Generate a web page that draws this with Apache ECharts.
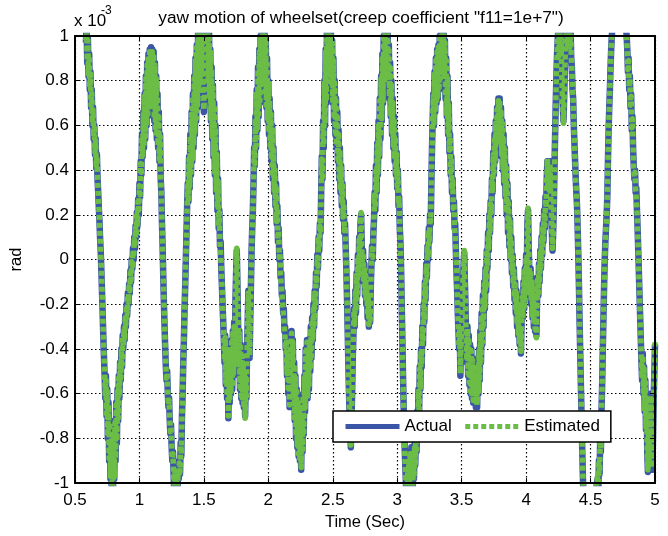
<!DOCTYPE html>
<html><head><meta charset="utf-8">
<script src="https://cdn.jsdelivr.net/npm/echarts/dist/echarts.min.js"></script>
<style>html,body{margin:0;padding:0;background:#fff}#c{width:668px;height:536px}</style>
</head><body><div id="c"></div>
<script>
const chartTitle = 'yaw motion of wheelset(creep coefficient "f11=1e+7")';
const xAxisName = 'Time (Sec)';
const yAxisName = 'rad';
const scaleBase = 'x 10';
const scaleExp = '-3';
const seriesNames = ['Actual', 'Estimated'];
const xMin = 0.5, xMax = 5, xStep = 0.5;
const yMin = -1, yMax = 1, yStep = 0.2;

const actual = [
[0.585,0.97],[0.59,1.05],[0.595,0.88],[0.6,0.99],[0.605,0.82],[0.61,0.92],[0.615,0.76],[0.62,0.84],[0.625,0.68],[0.63,0.76],[0.635,0.6],[0.64,0.68],[0.645,0.54],[0.65,0.6],[0.655,0.47],[0.66,0.54],[0.665,0.41],[0.67,0.47],[0.675,0.36],[0.68,0.3],[0.685,0.23],[0.69,0.17],[0.695,0.09],[0.7,0.03],[0.705,-0.06],[0.71,-0.15],[0.715,-0.25],[0.72,-0.35],[0.725,-0.44],[0.73,-0.52],
[0.735,-0.62],[0.74,-0.52],[0.745,-0.7],[0.75,-0.58],[0.755,-0.8],[0.76,-0.64],[0.765,-0.9],[0.77,-0.72],[0.775,-0.98],[0.78,-0.8],[0.785,-1.05],[0.79,-0.84],[0.795,-1.04],[0.8,-0.78],[0.805,-0.98],[0.81,-0.72],[0.815,-0.9],[0.82,-0.64],[0.825,-0.82],[0.83,-0.58],[0.835,-0.72],[0.84,-0.52],[0.845,-0.62],[0.85,-0.46],[0.855,-0.54],[0.86,-0.4],[0.865,-0.48],[0.87,-0.34],[0.875,-0.4],[0.88,-0.3],[0.885,-0.36],[0.89,-0.25],[0.895,-0.3],[0.9,-0.2],[0.905,-0.25],[0.91,-0.15],[0.915,-0.2],[0.92,-0.11],[0.925,-0.15],[0.93,-0.05],[0.935,-0.1],[0.94,0.0],[0.945,-0.04],[0.95,0.05],[0.955,0.0],[0.96,0.1],[0.965,0.05],[0.97,0.15],[0.975,0.1],[0.98,0.21],[0.985,0.15],[0.99,0.27],[0.995,0.2],[1.0,0.34],[1.005,0.28],[1.01,0.44],
[1.015,0.38],[1.02,0.56],[1.025,0.46],[1.03,0.66],[1.035,0.5],[1.04,0.74],[1.045,0.54],[1.05,0.82],[1.055,0.6],[1.06,0.88],[1.065,0.64],[1.07,0.92],[1.075,0.7],[1.08,0.94],[1.085,0.72],[1.09,0.95],[1.095,0.7],[1.1,0.94],[1.105,0.66],[1.11,0.93],[1.115,0.62],[1.12,0.88],[1.125,0.58],[1.13,0.82],[1.135,0.54],[1.14,0.74],[1.145,0.5],[1.15,0.66],[1.155,0.44],[1.16,0.56],[1.165,0.36],[1.17,0.3],[1.175,0.16],[1.18,0.05],
[1.185,-0.08],[1.19,-0.2],[1.195,-0.3],[1.2,-0.4],[1.205,-0.48],[1.21,-0.54],[1.215,-0.5],[1.22,-0.6],[1.225,-0.66],[1.23,-0.62],[1.235,-0.72],[1.24,-0.78],[1.245,-0.74],[1.25,-0.84],[1.255,-0.9],[1.26,-0.86],[1.265,-0.96],[1.27,-1.04],[1.275,-0.94],[1.28,-1.02],[1.285,-1.06],[1.29,-0.96],[1.295,-1.04],[1.3,-0.94],[1.305,-0.98],[1.31,-0.9],
[1.315,-0.96],[1.32,-0.82],[1.325,-0.88],[1.33,-0.7],[1.335,-0.6],[1.34,-0.46],[1.345,-0.36],[1.35,-0.22],[1.355,-0.12],
[1.36,0.0],[1.365,0.12],[1.37,0.24],[1.375,0.34],[1.38,0.26],[1.385,0.46],[1.39,0.32],[1.395,0.56],[1.4,0.38],[1.405,0.66],[1.41,0.44],[1.415,0.74],[1.42,0.5],[1.425,0.82],[1.43,0.56],[1.435,0.9],[1.44,0.62],[1.445,0.96],[1.45,0.68],[1.455,1.02],[1.46,0.74],[1.465,1.05],[1.47,0.8],[1.475,1.06],[1.48,0.84],[1.485,1.06],[1.49,0.8],[1.495,0.72],[1.5,0.66],[1.505,0.74],[1.51,0.86],[1.515,0.96],[1.52,1.04],[1.525,0.84],[1.53,1.06],[1.535,0.8],[1.54,1.02],[1.545,0.72],[1.55,0.94],[1.555,0.62],[1.56,0.86],[1.565,0.54],[1.57,0.78],[1.575,0.46],[1.58,0.7],[1.585,0.38],[1.59,0.6],[1.595,0.3],[1.6,0.48],[1.605,0.22],[1.61,0.36],[1.615,0.14],[1.62,0.22],[1.625,0.06],[1.63,0.08],[1.635,-0.04],[1.64,-0.12],[1.645,-0.2],[1.65,-0.28],[1.655,-0.36],
[1.66,-0.46],[1.665,-0.34],[1.67,-0.56],[1.675,-0.38],[1.68,-0.62],[1.685,-0.44],[1.69,-0.71],[1.695,-0.5],[1.7,-0.64],[1.705,-0.4],[1.71,-0.6],[1.715,-0.36],[1.72,-0.58],[1.725,-0.32],[1.73,-0.52],[1.735,-0.28],[1.74,-0.44],[1.745,-0.18],[1.75,-0.06],[1.755,0.04],[1.76,-0.1],[1.765,-0.28],[1.77,-0.48],[1.775,-0.32],[1.78,-0.58],[1.785,-0.38],[1.79,-0.62],[1.795,-0.42],[1.8,-0.64],[1.805,-0.46],[1.81,-0.66],[1.815,-0.5],[1.82,-0.7],[1.825,-0.52],[1.83,-0.62],[1.835,-0.4],[1.84,-0.28],[1.845,-0.14],[1.85,-0.3],[1.855,-0.44],[1.86,-0.26],[1.865,-0.12],[1.87,0.04],[1.875,0.14],[1.88,0.22],
[1.885,0.34],[1.89,0.5],[1.895,0.42],[1.9,0.64],[1.905,0.5],[1.91,0.76],[1.915,0.58],[1.92,0.86],[1.925,0.64],[1.93,0.94],[1.935,0.7],[1.94,1.0],[1.945,0.78],[1.95,1.05],[1.955,0.84],[1.96,1.06],[1.965,0.8],[1.97,1.04],[1.975,0.74],[1.98,0.98],[1.985,0.68],[1.99,0.9],[1.995,0.62],[2.0,0.8],[2.005,0.56],[2.01,0.72],[2.015,0.5],[2.02,0.66],[2.025,0.44],[2.03,0.6],[2.035,0.36],[2.04,0.5],[2.045,0.3],[2.05,0.42],[2.055,0.24],[2.06,0.34],[2.065,0.16],[2.07,0.24],[2.075,0.08],[2.08,0.14],[2.085,0.0],[2.09,0.04],[2.095,-0.08],[2.1,-0.06],[2.105,-0.16],[2.11,-0.14],[2.115,-0.24],[2.12,-0.22],[2.125,-0.32],[2.13,-0.3],[2.135,-0.4],[2.14,-0.36],
[2.145,-0.52],[2.15,-0.4],[2.155,-0.6],[2.16,-0.44],[2.165,-0.66],[2.17,-0.48],[2.175,-0.38],[2.18,-0.32],[2.185,-0.5],[2.19,-0.36],[2.195,-0.62],[2.2,-0.46],[2.205,-0.72],[2.21,-0.52],[2.215,-0.8],[2.22,-0.58],[2.225,-0.84],[2.23,-0.62],[2.235,-0.88],[2.24,-0.66],[2.245,-0.9],[2.25,-0.72],[2.255,-0.94],[2.26,-0.7],[2.265,-0.86],[2.27,-0.6],[2.275,-0.78],[2.28,-0.52],[2.285,-0.68],[2.29,-0.4],[2.295,-0.58],[2.3,-0.36],[2.305,-0.62],[2.31,-0.42],[2.315,-0.58],[2.32,-0.36],[2.325,-0.5],[2.33,-0.3],[2.335,-0.44],[2.34,-0.26],[2.345,-0.36],[2.35,-0.2],[2.355,-0.3],[2.36,-0.14],[2.365,-0.22],[2.37,-0.06],[2.375,-0.12],[2.38,0.02],[2.385,-0.04],[2.39,0.1],[2.395,0.04],[2.4,0.16],[2.405,0.12],
[2.41,0.3],[2.415,0.46],[2.42,0.36],[2.425,0.62],[2.43,0.5],[2.435,0.8],[2.44,0.6],[2.445,0.94],[2.45,0.7],[2.455,1.04],[2.46,0.8],[2.465,1.08],[2.47,0.86],[2.475,1.08],[2.48,0.84],[2.485,1.04],[2.49,0.78],[2.495,0.98],[2.5,0.7],[2.505,0.9],[2.51,0.62],[2.515,0.8],[2.52,0.56],[2.525,0.72],[2.53,0.5],[2.535,0.66],[2.54,0.44],[2.545,0.58],[2.55,0.36],[2.555,0.5],[2.56,0.3],[2.565,0.42],[2.57,0.24],[2.575,0.34],[2.58,0.18],[2.585,0.26],[2.59,0.12],[2.595,0.16],[2.6,0.06],
[2.605,-0.04],[2.61,-0.16],[2.615,-0.3],[2.62,-0.44],[2.625,-0.58],[2.63,-0.68],[2.635,-0.76],[2.64,-0.84],[2.645,-0.72],[2.65,-0.6],[2.655,-0.44],[2.66,-0.34],[2.665,-0.22],[2.67,-0.3],[2.675,-0.14],[2.68,-0.24],[2.685,-0.06],[2.69,-0.16],[2.695,0.02],[2.7,-0.08],[2.705,0.1],[2.71,0.0],[2.715,0.16],[2.72,0.2],[2.725,0.06],[2.73,-0.04],[2.735,0.04],[2.74,-0.1],[2.745,-0.02],[2.75,-0.16],[2.755,-0.06],[2.76,-0.2],[2.765,-0.12],[2.77,-0.26],[2.775,-0.16],[2.78,-0.3],[2.785,-0.22],[2.79,-0.28],[2.795,-0.12],[2.8,-0.02],[2.805,0.06],[2.81,0.0],[2.815,0.12],[2.82,0.18],
[2.825,0.3],[2.83,0.22],[2.835,0.42],[2.84,0.3],[2.845,0.52],[2.85,0.38],[2.855,0.62],[2.86,0.46],[2.865,0.72],[2.87,0.54],[2.875,0.82],[2.88,0.62],[2.885,0.92],[2.89,0.7],[2.895,1.0],[2.9,0.78],[2.905,1.04],[2.91,0.84],[2.915,1.06],[2.92,0.86],[2.925,1.04],[2.93,0.8],[2.935,0.96],[2.94,0.72],[2.945,0.88],[2.95,0.64],[2.955,0.8],[2.96,0.56],[2.965,0.72],[2.97,0.5],[2.975,0.64],[2.98,0.44],[2.985,0.56],[2.99,0.38],[2.995,0.48],[3.0,0.32],[3.005,0.4],[3.01,0.24],[3.015,0.28],[3.02,0.14],[3.025,0.08],
[3.03,-0.04],[3.035,-0.2],[3.04,-0.36],[3.045,-0.52],[3.05,-0.66],[3.055,-0.78],[3.06,-0.88],[3.065,-0.96],[3.07,-1.04],[3.08,-0.94],[3.085,-1.06],[3.09,-0.9],[3.095,-1.02],[3.1,-0.86],[3.105,-1.0],[3.11,-0.84],[3.115,-0.96],[3.12,-1.04],[3.125,-0.88],[3.13,-0.98],[3.135,-0.82],[3.14,-0.92],[3.145,-0.76],[3.15,-0.86],[3.155,-0.68],[3.16,-0.78],[3.165,-0.58],[3.17,-0.68],[3.175,-0.48],[3.18,-0.58],[3.185,-0.4],[3.19,-0.48],[3.195,-0.3],[3.2,-0.38],[3.205,-0.2],[3.21,-0.28],[3.215,-0.1],[3.22,-0.18],[3.225,-0.02],[3.23,-0.08],[3.235,0.06],[3.24,0.0],[3.245,0.14],[3.25,0.08],[3.255,0.2],[3.26,0.16],
[3.265,0.34],[3.27,0.5],[3.275,0.62],[3.28,0.74],[3.285,0.6],[3.29,0.84],[3.295,0.66],[3.3,0.9],[3.305,0.7],[3.31,0.94],[3.315,0.72],[3.32,0.96],[3.325,0.76],[3.33,1.0],[3.335,0.8],[3.34,1.02],[3.345,0.82],[3.35,1.04],[3.355,0.86],[3.36,1.04],[3.365,0.8],[3.37,0.98],[3.375,0.72],[3.38,0.9],[3.385,0.64],[3.39,0.82],[3.395,0.56],[3.4,0.7],[3.405,0.48],[3.41,0.56],[3.415,0.38],[3.42,0.46],[3.425,0.3],[3.43,0.36],[3.435,0.22],[3.44,0.26],[3.445,0.14],[3.45,0.16],
[3.455,0.04],[3.46,-0.06],[3.465,-0.14],[3.47,-0.24],[3.475,-0.32],[3.48,-0.4],[3.485,-0.3],[3.49,-0.52],[3.495,-0.36],[3.5,-0.3],[3.505,-0.2],[3.51,-0.1],[3.515,-0.02],[3.52,0.03],[3.525,-0.1],[3.53,-0.22],[3.535,-0.34],[3.54,-0.46],[3.545,-0.3],[3.55,-0.52],[3.555,-0.34],[3.56,-0.56],[3.565,-0.38],[3.57,-0.6],[3.575,-0.4],[3.58,-0.62],[3.585,-0.44],[3.59,-0.64],[3.595,-0.46],[3.6,-0.64],[3.605,-0.48],[3.61,-0.66],[3.615,-0.5],[3.62,-0.66],[3.625,-0.46],[3.63,-0.6],[3.635,-0.4],[3.64,-0.54],[3.645,-0.32],[3.65,-0.46],[3.655,-0.24],[3.66,-0.38],[3.665,-0.16],[3.67,-0.3],[3.675,-0.1],[3.68,-0.22],[3.685,-0.04],[3.69,-0.14],[3.695,0.04],[3.7,-0.04],[3.705,0.12],[3.71,0.04],[3.715,0.2],[3.72,0.12],[3.725,0.26],[3.73,0.2],
[3.735,0.36],[3.74,0.3],[3.745,0.48],[3.75,0.38],[3.755,0.56],[3.76,0.44],[3.765,0.62],[3.77,0.5],[3.775,0.68],[3.78,0.54],[3.785,0.72],[3.79,0.56],[3.795,0.72],[3.8,0.52],[3.805,0.68],[3.81,0.46],[3.815,0.62],[3.82,0.4],[3.825,0.56],[3.83,0.34],[3.835,0.5],[3.84,0.28],[3.845,0.42],[3.85,0.2],[3.855,0.34],[3.86,0.12],[3.865,0.26],[3.87,0.06],[3.875,0.18],[3.88,0.0],[3.885,0.1],[3.89,-0.06],[3.895,0.02],[3.9,-0.12],[3.905,-0.04],[3.91,-0.18],[3.915,-0.1],[3.92,-0.24],[3.925,-0.14],[3.93,-0.3],[3.935,-0.2],[3.94,-0.34],[3.945,-0.26],[3.95,-0.38],[3.955,-0.3],[3.96,-0.42],[3.965,-0.28],[3.97,-0.16],[3.975,-0.26],[3.98,-0.1],[3.985,-0.22],[3.99,-0.04],[3.995,-0.16],[4.0,0.02],[4.005,-0.08],[4.01,0.16],[4.015,0.22],[4.02,0.06],[4.025,-0.06],[4.03,-0.16],[4.035,-0.04],[4.04,-0.2],[4.045,-0.08],[4.05,-0.26],[4.055,-0.12],[4.06,-0.3],[4.065,-0.14],[4.07,-0.32],[4.075,-0.16],[4.08,-0.34],[4.085,-0.18],[4.09,-0.08],[4.095,-0.16],[4.1,-0.02],[4.105,-0.1],[4.11,0.04],[4.115,-0.04],[4.12,0.1],[4.125,0.02],[4.13,0.16],[4.135,0.08],[4.14,0.22],[4.145,0.14],[4.15,0.28],
[4.155,0.22],[4.16,0.36],[4.165,0.44],[4.17,0.3],[4.175,0.42],[4.18,0.3],[4.185,0.44],[4.19,0.28],[4.195,0.22],[4.2,0.12],[4.205,0.04],[4.21,0.12],[4.215,0.24],[4.22,0.4],[4.225,0.56],[4.23,0.7],[4.235,0.82],[4.24,0.92],[4.245,0.98],[4.25,1.04],[4.255,0.9],[4.26,1.06],[4.265,0.92],[4.27,1.04],[4.275,0.86],[4.28,0.76],[4.285,0.68],[4.29,0.62],[4.295,0.72],[4.3,0.84],[4.305,0.94],[4.31,1.02],[4.315,1.06],[4.32,0.94],[4.325,1.06],[4.33,0.94],[4.335,1.04],
[4.34,0.94],[4.345,1.04],[4.35,0.9],[4.355,0.86],[4.36,0.76],[4.365,0.72],[4.37,0.6],[4.375,0.52],[4.38,0.44],[4.385,0.36],[4.39,0.3],[4.395,0.24],[4.4,0.14],[4.405,0.02],[4.41,-0.12],[4.415,-0.28],[4.42,-0.42],[4.425,-0.56],[4.43,-0.7],[4.435,-0.84],[4.44,-0.96],[4.445,-1.06],[4.455,-1.1],
[4.47,-1.12],[4.49,-1.1],[4.51,-1.12],[4.53,-1.06],[4.545,-1.02],[4.555,-0.98],[4.56,-1.04],[4.565,-0.9],[4.57,-0.96],[4.575,-0.8],[4.58,-0.86],[4.585,-0.68],[4.59,-0.56],[4.595,-0.4],[4.6,-0.26],[4.605,-0.12],[4.61,0.0],[4.615,0.08],[4.62,0.14],[4.625,0.2],[4.63,0.28],[4.635,0.44],[4.64,0.58],[4.645,0.68],[4.65,0.76],[4.655,0.86],[4.66,0.94],[4.665,1.0],[4.67,1.04],[4.68,1.1],[4.7,1.14],[4.72,1.12],[4.74,1.1],[4.76,1.08],[4.775,1.04],[4.78,1.0],[4.785,0.94],[4.79,0.84],[4.795,0.9],[4.8,0.76],[4.805,0.82],[4.81,0.68],[4.815,0.74],[4.82,0.58],[4.825,0.64],[4.83,0.5],[4.835,0.42],[4.84,0.36],[4.845,0.4],[4.85,0.3],[4.855,0.32],[4.86,0.22],[4.865,0.14],[4.87,0.04],[4.875,-0.06],[4.88,-0.16],[4.885,-0.26],[4.89,-0.36],[4.895,-0.46],[4.9,-0.54],[4.905,-0.42],[4.91,-0.6],[4.915,-0.48],[4.92,-0.68],[4.925,-0.54],[4.93,-0.76],[4.935,-0.62],[4.94,-0.86],[4.945,-0.95],[4.95,-0.76],[4.955,-0.9],[4.96,-0.68],[4.965,-0.6],[4.97,-0.78],[4.975,-0.88],[4.98,-0.94],[4.985,-0.78],[4.99,-0.62],[4.995,-0.5],[5.0,-0.38]
];

const estimated = [
[0.585,0.98],[0.59,1.04],[0.595,0.89],[0.6,0.98],[0.605,0.83],[0.61,0.91],[0.615,0.77],[0.62,0.83],[0.625,0.69],[0.63,0.75],[0.635,0.61],[0.64,0.67],[0.645,0.55],[0.65,0.59],[0.655,0.48],[0.66,0.53],[0.665,0.42],[0.67,0.46],[0.675,0.37],[0.68,0.29],[0.685,0.24],[0.69,0.16],[0.695,0.1],[0.7,0.02],[0.705,-0.05],[0.71,-0.14],[0.715,-0.24],[0.72,-0.34],[0.725,-0.43],[0.73,-0.51],
[0.735,-0.61],[0.74,-0.53],[0.745,-0.69],[0.75,-0.59],[0.755,-0.79],[0.76,-0.65],[0.765,-0.89],[0.77,-0.73],[0.775,-0.97],[0.78,-0.81],[0.785,-1.04],[0.79,-0.85],[0.795,-1.03],[0.8,-0.79],[0.805,-0.97],[0.81,-0.73],[0.815,-0.89],[0.82,-0.65],[0.825,-0.81],[0.83,-0.59],[0.835,-0.71],[0.84,-0.53],[0.845,-0.61],[0.85,-0.47],[0.855,-0.53],[0.86,-0.41],[0.865,-0.47],[0.87,-0.35],[0.875,-0.39],[0.88,-0.31],[0.885,-0.35],[0.89,-0.26],[0.895,-0.29],[0.9,-0.21],[0.905,-0.24],[0.91,-0.16],[0.915,-0.19],[0.92,-0.12],[0.925,-0.14],[0.93,-0.06],[0.935,-0.09],[0.94,-0.01],[0.945,-0.03],[0.95,0.04],[0.955,0.01],[0.96,0.09],[0.965,0.06],[0.97,0.14],[0.975,0.11],[0.98,0.2],[0.985,0.16],[0.99,0.26],[0.995,0.21],[1.0,0.33],[1.005,0.29],[1.01,0.43],
[1.015,0.39],[1.02,0.55],[1.025,0.47],[1.03,0.65],[1.035,0.51],[1.04,0.73],[1.045,0.55],[1.05,0.81],[1.055,0.61],[1.06,0.87],[1.065,0.65],[1.07,0.91],[1.075,0.71],[1.08,0.93],[1.085,0.73],[1.09,0.94],[1.095,0.71],[1.1,0.93],[1.105,0.67],[1.11,0.92],[1.115,0.63],[1.12,0.87],[1.125,0.59],[1.13,0.81],[1.135,0.55],[1.14,0.73],[1.145,0.51],[1.15,0.65],[1.155,0.45],[1.16,0.55],[1.165,0.37],[1.17,0.29],[1.175,0.17],[1.18,0.04],
[1.185,-0.07],[1.19,-0.19],[1.195,-0.29],[1.2,-0.39],[1.205,-0.47],[1.21,-0.53],[1.215,-0.51],[1.22,-0.59],[1.225,-0.65],[1.23,-0.63],[1.235,-0.71],[1.24,-0.77],[1.245,-0.75],[1.25,-0.83],[1.255,-0.89],[1.26,-0.87],[1.265,-0.95],[1.27,-1.03],[1.275,-0.95],[1.28,-1.01],[1.285,-1.05],[1.29,-0.97],[1.295,-1.03],[1.3,-0.95],[1.305,-0.97],[1.31,-0.91],
[1.315,-0.95],[1.32,-0.83],[1.325,-0.87],[1.33,-0.71],[1.335,-0.59],[1.34,-0.47],[1.345,-0.35],[1.35,-0.23],[1.355,-0.11],
[1.36,0.01],[1.365,0.11],[1.37,0.23],[1.375,0.33],[1.38,0.27],[1.385,0.45],[1.39,0.33],[1.395,0.55],[1.4,0.39],[1.405,0.65],[1.41,0.45],[1.415,0.73],[1.42,0.51],[1.425,0.81],[1.43,0.57],[1.435,0.89],[1.44,0.63],[1.445,0.95],[1.45,0.69],[1.455,1.01],[1.46,0.75],[1.465,1.04],[1.47,0.81],[1.475,1.05],[1.48,0.85],[1.485,1.05],[1.49,0.81],[1.495,0.73],[1.5,0.67],[1.505,0.75],[1.51,0.85],[1.515,0.95],[1.52,1.03],[1.525,0.85],[1.53,1.05],[1.535,0.81],[1.54,1.01],[1.545,0.73],[1.55,0.93],[1.555,0.63],[1.56,0.85],[1.565,0.55],[1.57,0.77],[1.575,0.47],[1.58,0.69],[1.585,0.39],[1.59,0.59],[1.595,0.31],[1.6,0.47],[1.605,0.23],[1.61,0.35],[1.615,0.15],[1.62,0.21],[1.625,0.07],[1.63,0.07],[1.635,-0.03],[1.64,-0.11],[1.645,-0.19],[1.65,-0.27],[1.655,-0.35],
[1.66,-0.45],[1.665,-0.35],[1.67,-0.55],[1.675,-0.39],[1.68,-0.61],[1.685,-0.45],[1.69,-0.7],[1.695,-0.51],[1.7,-0.63],[1.705,-0.41],[1.71,-0.59],[1.715,-0.37],[1.72,-0.57],[1.725,-0.33],[1.73,-0.51],[1.735,-0.29],[1.74,-0.43],[1.745,-0.19],[1.75,-0.05],[1.755,0.05],[1.76,-0.09],[1.765,-0.27],[1.77,-0.47],[1.775,-0.33],[1.78,-0.57],[1.785,-0.39],[1.79,-0.61],[1.795,-0.43],[1.8,-0.63],[1.805,-0.47],[1.81,-0.65],[1.815,-0.51],[1.82,-0.71],[1.825,-0.53],[1.83,-0.61],[1.835,-0.41],[1.84,-0.27],[1.845,-0.15],[1.85,-0.29],[1.855,-0.43],[1.86,-0.27],[1.865,-0.11],[1.87,0.03],[1.875,0.15],[1.88,0.21],
[1.885,0.33],[1.89,0.49],[1.895,0.43],[1.9,0.63],[1.905,0.51],[1.91,0.75],[1.915,0.59],[1.92,0.85],[1.925,0.65],[1.93,0.93],[1.935,0.71],[1.94,0.99],[1.945,0.79],[1.95,1.04],[1.955,0.85],[1.96,1.05],[1.965,0.81],[1.97,1.03],[1.975,0.75],[1.98,0.97],[1.985,0.69],[1.99,0.89],[1.995,0.63],[2.0,0.79],[2.005,0.57],[2.01,0.71],[2.015,0.51],[2.02,0.65],[2.025,0.45],[2.03,0.59],[2.035,0.37],[2.04,0.49],[2.045,0.31],[2.05,0.41],[2.055,0.25],[2.06,0.33],[2.065,0.17],[2.07,0.23],[2.075,0.09],[2.08,0.13],[2.085,0.01],[2.09,0.03],[2.095,-0.07],[2.1,-0.07],[2.105,-0.15],[2.11,-0.15],[2.115,-0.23],[2.12,-0.23],[2.125,-0.31],[2.13,-0.31],[2.135,-0.39],[2.14,-0.37],
[2.145,-0.51],[2.15,-0.41],[2.155,-0.59],[2.16,-0.45],[2.165,-0.65],[2.17,-0.49],[2.175,-0.39],[2.18,-0.33],[2.185,-0.49],[2.19,-0.37],[2.195,-0.61],[2.2,-0.47],[2.205,-0.71],[2.21,-0.53],[2.215,-0.79],[2.22,-0.59],[2.225,-0.83],[2.23,-0.63],[2.235,-0.87],[2.24,-0.67],[2.245,-0.89],[2.25,-0.73],[2.255,-0.93],[2.26,-0.71],[2.265,-0.85],[2.27,-0.61],[2.275,-0.77],[2.28,-0.53],[2.285,-0.67],[2.29,-0.41],[2.295,-0.57],[2.3,-0.37],[2.305,-0.61],[2.31,-0.43],[2.315,-0.57],[2.32,-0.37],[2.325,-0.49],[2.33,-0.31],[2.335,-0.43],[2.34,-0.27],[2.345,-0.35],[2.35,-0.21],[2.355,-0.29],[2.36,-0.15],[2.365,-0.21],[2.37,-0.07],[2.375,-0.11],[2.38,0.01],[2.385,-0.03],[2.39,0.09],[2.395,0.05],[2.4,0.15],[2.405,0.13],
[2.41,0.29],[2.415,0.45],[2.42,0.37],[2.425,0.61],[2.43,0.51],[2.435,0.79],[2.44,0.61],[2.445,0.93],[2.45,0.71],[2.455,1.03],[2.46,0.81],[2.465,1.07],[2.47,0.87],[2.475,1.07],[2.48,0.85],[2.485,1.03],[2.49,0.79],[2.495,0.97],[2.5,0.71],[2.505,0.89],[2.51,0.63],[2.515,0.79],[2.52,0.57],[2.525,0.71],[2.53,0.51],[2.535,0.65],[2.54,0.45],[2.545,0.57],[2.55,0.37],[2.555,0.49],[2.56,0.31],[2.565,0.41],[2.57,0.25],[2.575,0.33],[2.58,0.19],[2.585,0.25],[2.59,0.13],[2.595,0.15],[2.6,0.07],
[2.605,-0.05],[2.61,-0.15],[2.615,-0.31],[2.62,-0.43],[2.625,-0.59],[2.63,-0.67],[2.635,-0.77],[2.64,-0.83],[2.645,-0.73],[2.65,-0.59],[2.655,-0.45],[2.66,-0.33],[2.665,-0.23],[2.67,-0.29],[2.675,-0.15],[2.68,-0.23],[2.685,-0.07],[2.69,-0.15],[2.695,0.01],[2.7,-0.07],[2.705,0.09],[2.71,0.01],[2.715,0.15],[2.72,0.21],[2.725,0.05],[2.73,-0.03],[2.735,0.03],[2.74,-0.09],[2.745,-0.03],[2.75,-0.15],[2.755,-0.07],[2.76,-0.19],[2.765,-0.13],[2.77,-0.25],[2.775,-0.17],[2.78,-0.29],[2.785,-0.23],[2.79,-0.27],[2.795,-0.13],[2.8,-0.01],[2.805,0.05],[2.81,0.01],[2.815,0.11],[2.82,0.19],
[2.825,0.29],[2.83,0.23],[2.835,0.41],[2.84,0.31],[2.845,0.51],[2.85,0.39],[2.855,0.61],[2.86,0.47],[2.865,0.71],[2.87,0.55],[2.875,0.81],[2.88,0.63],[2.885,0.91],[2.89,0.71],[2.895,0.99],[2.9,0.79],[2.905,1.03],[2.91,0.85],[2.915,1.05],[2.92,0.87],[2.925,1.03],[2.93,0.81],[2.935,0.95],[2.94,0.73],[2.945,0.87],[2.95,0.65],[2.955,0.79],[2.96,0.57],[2.965,0.71],[2.97,0.51],[2.975,0.63],[2.98,0.45],[2.985,0.55],[2.99,0.39],[2.995,0.47],[3.0,0.33],[3.005,0.39],[3.01,0.25],[3.015,0.27],[3.02,0.15],[3.025,0.07],
[3.03,-0.05],[3.035,-0.19],[3.04,-0.37],[3.045,-0.51],[3.05,-0.67],[3.055,-0.77],[3.06,-0.89],[3.065,-0.95],[3.07,-1.03],[3.08,-0.95],[3.085,-1.05],[3.09,-0.91],[3.095,-1.01],[3.1,-0.87],[3.105,-0.99],[3.11,-0.85],[3.115,-0.95],[3.12,-1.03],[3.125,-0.89],[3.13,-0.97],[3.135,-0.83],[3.14,-0.91],[3.145,-0.77],[3.15,-0.85],[3.155,-0.69],[3.16,-0.77],[3.165,-0.59],[3.17,-0.67],[3.175,-0.49],[3.18,-0.57],[3.185,-0.41],[3.19,-0.47],[3.195,-0.31],[3.2,-0.37],[3.205,-0.21],[3.21,-0.27],[3.215,-0.11],[3.22,-0.17],[3.225,-0.03],[3.23,-0.07],[3.235,0.05],[3.24,0.01],[3.245,0.13],[3.25,0.09],[3.255,0.19],[3.26,0.17],
[3.265,0.33],[3.27,0.49],[3.275,0.61],[3.28,0.73],[3.285,0.61],[3.29,0.83],[3.295,0.67],[3.3,0.89],[3.305,0.71],[3.31,0.93],[3.315,0.73],[3.32,0.95],[3.325,0.77],[3.33,0.99],[3.335,0.81],[3.34,1.01],[3.345,0.83],[3.35,1.03],[3.355,0.87],[3.36,1.03],[3.365,0.81],[3.37,0.97],[3.375,0.73],[3.38,0.89],[3.385,0.65],[3.39,0.81],[3.395,0.57],[3.4,0.69],[3.405,0.49],[3.41,0.55],[3.415,0.39],[3.42,0.45],[3.425,0.31],[3.43,0.35],[3.435,0.23],[3.44,0.25],[3.445,0.15],[3.45,0.15],
[3.455,0.05],[3.46,-0.05],[3.465,-0.15],[3.47,-0.23],[3.475,-0.33],[3.48,-0.39],[3.485,-0.31],[3.49,-0.51],[3.495,-0.37],[3.5,-0.29],[3.505,-0.21],[3.51,-0.09],[3.515,-0.03],[3.52,0.04],[3.525,-0.11],[3.53,-0.21],[3.535,-0.35],[3.54,-0.45],[3.545,-0.31],[3.55,-0.51],[3.555,-0.35],[3.56,-0.55],[3.565,-0.39],[3.57,-0.59],[3.575,-0.41],[3.58,-0.61],[3.585,-0.45],[3.59,-0.63],[3.595,-0.47],[3.6,-0.63],[3.605,-0.49],[3.61,-0.65],[3.615,-0.51],[3.62,-0.65],[3.625,-0.47],[3.63,-0.59],[3.635,-0.41],[3.64,-0.53],[3.645,-0.33],[3.65,-0.45],[3.655,-0.25],[3.66,-0.37],[3.665,-0.17],[3.67,-0.29],[3.675,-0.11],[3.68,-0.21],[3.685,-0.05],[3.69,-0.13],[3.695,0.03],[3.7,-0.03],[3.705,0.11],[3.71,0.05],[3.715,0.19],[3.72,0.13],[3.725,0.25],[3.73,0.21],
[3.735,0.35],[3.74,0.31],[3.745,0.47],[3.75,0.39],[3.755,0.55],[3.76,0.45],[3.765,0.61],[3.77,0.51],[3.775,0.67],[3.78,0.55],[3.785,0.71],[3.79,0.57],[3.795,0.71],[3.8,0.53],[3.805,0.67],[3.81,0.47],[3.815,0.61],[3.82,0.41],[3.825,0.55],[3.83,0.35],[3.835,0.49],[3.84,0.29],[3.845,0.41],[3.85,0.21],[3.855,0.33],[3.86,0.13],[3.865,0.25],[3.87,0.07],[3.875,0.17],[3.88,0.01],[3.885,0.09],[3.89,-0.05],[3.895,0.01],[3.9,-0.11],[3.905,-0.05],[3.91,-0.17],[3.915,-0.11],[3.92,-0.23],[3.925,-0.15],[3.93,-0.29],[3.935,-0.21],[3.94,-0.33],[3.945,-0.27],[3.95,-0.37],[3.955,-0.31],[3.96,-0.41],[3.965,-0.29],[3.97,-0.17],[3.975,-0.25],[3.98,-0.11],[3.985,-0.21],[3.99,-0.05],[3.995,-0.15],[4.0,0.01],[4.005,-0.07],[4.01,0.15],[4.015,0.23],[4.02,0.07],[4.025,-0.05],[4.03,-0.15],[4.035,-0.05],[4.04,-0.19],[4.045,-0.09],[4.05,-0.25],[4.055,-0.13],[4.06,-0.29],[4.065,-0.15],[4.07,-0.31],[4.075,-0.17],[4.08,-0.35],[4.085,-0.19],[4.09,-0.09],[4.095,-0.15],[4.1,-0.03],[4.105,-0.09],[4.11,0.03],[4.115,-0.03],[4.12,0.09],[4.125,0.03],[4.13,0.15],[4.135,0.09],[4.14,0.21],[4.145,0.15],[4.15,0.27],
[4.155,0.23],[4.16,0.35],[4.165,0.45],[4.17,0.31],[4.175,0.41],[4.18,0.31],[4.185,0.43],[4.19,0.29],[4.195,0.21],[4.2,0.13],[4.205,0.05],[4.21,0.11],[4.215,0.25],[4.22,0.39],[4.225,0.57],[4.23,0.69],[4.235,0.83],[4.24,0.91],[4.245,0.99],[4.25,1.03],[4.255,0.91],[4.26,1.05],[4.265,0.93],[4.27,1.03],[4.275,0.87],[4.28,0.75],[4.285,0.69],[4.29,0.61],[4.295,0.73],[4.3,0.83],[4.305,0.95],[4.31,1.01],[4.315,1.05],[4.32,0.95],[4.325,1.05],[4.33,0.95],[4.335,1.03],
[4.34,0.95],[4.345,1.03],[4.35,0.91],[4.355,0.85],[4.36,0.77],[4.365,0.71],[4.37,0.61],[4.375,0.51],[4.38,0.45],[4.385,0.35],[4.39,0.31],[4.395,0.23],[4.4,0.15],[4.405,0.01],[4.41,-0.11],[4.415,-0.29],[4.42,-0.41],[4.425,-0.57],[4.43,-0.69],[4.435,-0.85],[4.44,-0.95],[4.445,-1.05],[4.455,-1.09],
[4.47,-1.11],[4.49,-1.09],[4.51,-1.11],[4.53,-1.05],[4.545,-1.01],[4.555,-0.97],[4.56,-1.03],[4.565,-0.91],[4.57,-0.95],[4.575,-0.81],[4.58,-0.85],[4.585,-0.69],[4.59,-0.55],[4.595,-0.41],[4.6,-0.25],[4.605,-0.13],[4.61,0.01],[4.615,0.07],[4.62,0.15],[4.625,0.19],[4.63,0.29],[4.635,0.43],[4.64,0.59],[4.645,0.67],[4.65,0.77],[4.655,0.85],[4.66,0.95],[4.665,0.99],[4.67,1.05],[4.68,1.09],[4.7,1.13],[4.72,1.11],[4.74,1.09],[4.76,1.07],[4.775,1.03],[4.78,1.01],[4.785,0.93],[4.79,0.85],[4.795,0.89],[4.8,0.77],[4.805,0.81],[4.81,0.69],[4.815,0.73],[4.82,0.59],[4.825,0.63],[4.83,0.51],[4.835,0.41],[4.84,0.37],[4.845,0.39],[4.85,0.31],[4.855,0.31],[4.86,0.23],[4.865,0.13],[4.87,0.05],[4.875,-0.07],[4.88,-0.15],[4.885,-0.27],[4.89,-0.35],[4.895,-0.47],[4.9,-0.53],[4.905,-0.43],[4.91,-0.59],[4.915,-0.49],[4.92,-0.67],[4.925,-0.55],[4.93,-0.75],[4.935,-0.63],[4.94,-0.85],[4.945,-0.94],[4.95,-0.77],[4.955,-0.89],[4.96,-0.69],[4.965,-0.61],[4.97,-0.77],[4.975,-0.87],[4.98,-0.93],[4.985,-0.79],[4.99,-0.61],[4.995,-0.51],[5.0,-0.37]
];

const BLUE = '#3b56a6';
const GREEN = '#6bbd45';
const FONT = '"Liberation Sans", Arial, Helvetica, sans-serif';

const chart = echarts.init(document.getElementById('c'), null, {renderer: 'canvas'});

function boxAxis(position, showLabel, extra) {
  return Object.assign({
    type: 'value', position: position, z: 5,
    axisLine: {show: true, onZero: false, lineStyle: {color: '#000', width: 2}},
    axisTick: {show: true, inside: true, length: 5, lineStyle: {color: '#000', width: 1}},
    axisLabel: {show: showLabel, color: '#000', fontSize: 17, fontFamily: FONT},
    splitLine: {show: false}
  }, extra);
}
const gridLine = {show: true, lineStyle: {color: '#000', width: 1.2, type: [1.5, 2.5]}};

const option = {
  animation: false,
  backgroundColor: '#fff',
  grid: {left: 73, right: 13, top: 36, bottom: 48, containLabel: false},
  xAxis: [
    boxAxis('bottom', true, {min: xMin, max: xMax, interval: xStep,
      axisLabel: {show: true, color: '#000', fontSize: 17, fontFamily: FONT, margin: 9},
      name: xAxisName, nameLocation: 'middle', nameGap: 27,
      nameTextStyle: {color: '#000', fontSize: 16.5, fontFamily: FONT}}),
    boxAxis('top', false, {min: xMin, max: xMax, interval: xStep}),
    {type: 'value', position: 'bottom', min: xMin, max: xMax, interval: xStep, z: 0,
      axisLine: {show: false, onZero: false}, axisTick: {show: false}, axisLabel: {show: false}, splitLine: gridLine}
  ],
  yAxis: [
    boxAxis('left', true, {min: yMin, max: yMax, interval: yStep,
      axisLabel: {show: true, color: '#000', fontSize: 17, fontFamily: FONT, margin: 6},
      name: yAxisName, nameLocation: 'middle', nameGap: 50, nameRotate: 90,
      nameTextStyle: {color: '#000', fontSize: 16.5, fontFamily: FONT}}),
    boxAxis('right', false, {min: yMin, max: yMax, interval: yStep}),
    {type: 'value', position: 'left', min: yMin, max: yMax, interval: yStep, z: 0,
      axisLine: {show: false, onZero: false}, axisTick: {show: false}, axisLabel: {show: false}, splitLine: gridLine}
  ],
  legend: {
    left: 333, top: 411, orient: 'horizontal',
    itemWidth: 54, itemHeight: 14, itemGap: 11,
    padding: [7, 11, 7, 10],
    backgroundColor: '#fff', borderColor: '#000', borderWidth: 1.5, borderRadius: 0,
    textStyle: {fontSize: 17, color: '#000', fontFamily: FONT},
    itemStyle: {opacity: 0, borderWidth: 0},
    lineStyle: {width: 5},
    data: seriesNames, z: 10
  },
  graphic: [
    {type: 'text', x: 361, y: 18, z: 10, style: {text: chartTitle, fill: '#000', font: '17.3px ' + FONT, align: 'center', verticalAlign: 'middle'}},
    {type: 'text', x: 74, y: 21, z: 10, style: {text: scaleBase, fill: '#000', font: '17px ' + FONT, align: 'left', verticalAlign: 'middle'}},
    {type: 'text', x: 101, y: 11, z: 10, style: {text: scaleExp, fill: '#000', font: '12px ' + FONT, align: 'left', verticalAlign: 'middle'}}
  ],
  series: [
    {name: seriesNames[0], type: 'line', xAxisIndex: 0, yAxisIndex: 0, data: actual,
      symbol: 'none', showSymbol: false, clip: true, z: 2,
      lineStyle: {color: BLUE, width: 6.5, join: 'round'}, itemStyle: {color: BLUE}},
    {name: seriesNames[1], type: 'line', xAxisIndex: 0, yAxisIndex: 0, data: estimated,
      symbol: 'none', showSymbol: false, clip: true, z: 3,
      lineStyle: {color: GREEN, width: 5.5, type: [5, 3], cap: 'butt', join: 'round'}, itemStyle: {color: GREEN}}
  ]
};
chart.setOption(option);
</script>
</body></html>
